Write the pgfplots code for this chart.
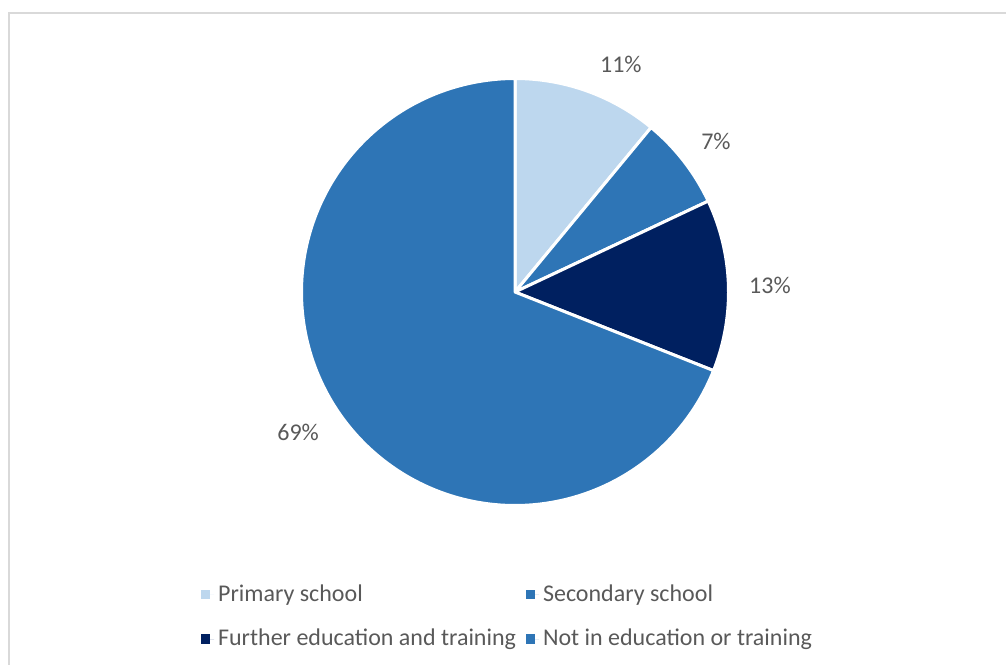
\documentclass[border=0pt]{standalone}
\usepackage{pgfplots}
\pgfplotsset{compat=1.18}
\usepackage{fontspec}
\setmainfont{Carlito}
\definecolor{cLight}{HTML}{BDD7EE}
\definecolor{cMid}{HTML}{2E75B6}
\definecolor{cNavy}{HTML}{002060}
\definecolor{cText}{HTML}{595959}
\definecolor{cFrame}{HTML}{D9D9D9}
% shares in percent (clockwise from 12 o'clock)
\def\vA{11}\def\vB{7}\def\vC{13}\def\vD{69}
\pgfmathsetmacro{\aA}{90}
\pgfmathsetmacro{\aB}{\aA-3.6*\vA}
\pgfmathsetmacro{\aC}{\aB-3.6*\vB}
\pgfmathsetmacro{\aD}{\aC-3.6*\vC}
\pgfmathsetmacro{\aE}{\aD-3.6*\vD}
\begin{document}
\fontsize{12pt}{14.4pt}\selectfont
\begin{tikzpicture}
\useasboundingbox (0pt,0pt) rectangle (503pt,-332pt);
\draw[cFrame, line width=1pt] (4.5pt,-340pt) -- (4.5pt,-6.5pt) -- (510pt,-6.5pt);
\begin{axis}[
  at={(257.5pt,-146pt)}, anchor=origin,
  x=106.75pt, y=106.75pt,
  xmin=-1.3, xmax=1.3, ymin=-1.3, ymax=1.3,
  hide axis, clip=false,
  every axis plot/.append style={draw=white, line width=1.5pt, line join=round},
  legend image code/.code={\fill[#1, draw=none] (0pt,-2.3pt) rectangle (4.6pt,2.3pt); \path[draw=none] (0pt,0pt) -- (6.5pt,0pt);},
  legend columns=2,
  legend cell align=left,
  legend style={draw=none, fill=none, inner sep=0pt, font=\color{cText},
    at={(axis cs:-1.472,-1.35)}, anchor=north west,
    row sep=8pt,
    /tikz/every even column/.append style={column sep=3pt}},
]
\addplot[fill=cLight, domain=\aB:\aA, samples=60] ({cos(x)},{sin(x)}) -- (axis cs:0,0) -- cycle;
\addlegendentry{Primary school}
\addplot[fill=cMid, domain=\aC:\aB, samples=40] ({cos(x)},{sin(x)}) -- (axis cs:0,0) -- cycle;
\addlegendentry{Secondary school}
\addplot[fill=cNavy, domain=\aD:\aC, samples=60] ({cos(x)},{sin(x)}) -- (axis cs:0,0) -- cycle;
\addlegendentry{Further education and training}
\addplot[fill=cMid, domain=\aE:\aD, samples=200] ({cos(x)},{sin(x)}) -- (axis cs:0,0) -- cycle;
\addlegendentry{Not in education or training}
\node[text=cText] at (axis cs:0.496,1.068) {\vA\%};
\node[text=cText] at (axis cs:0.941,0.707) {\vB\%};
\node[text=cText] at (axis cs:1.194,0.033) {\vC\%};
\node[text=cText] at (axis cs:-1.016,-0.656) {\vD\%};
\end{axis}
\end{tikzpicture}
\end{document}
